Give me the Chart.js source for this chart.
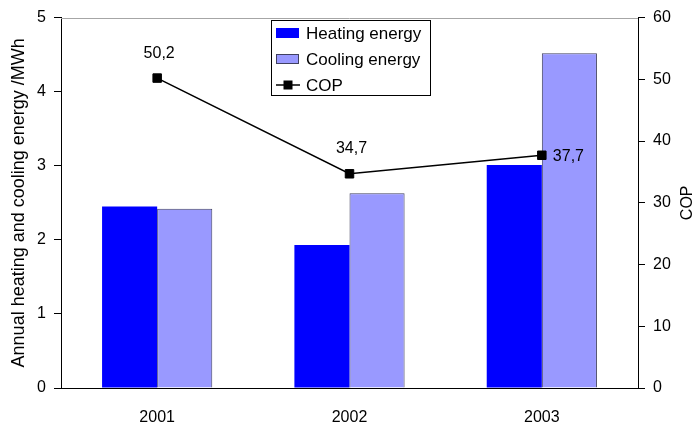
<!DOCTYPE html>
<html>
<head>
<meta charset="utf-8">
<title>Annual heating and cooling energy and COP</title>
<script src="https://cdn.jsdelivr.net/npm/chart.js@4/dist/chart.umd.min.js"></script>
<style>
  html, body { margin: 0; padding: 0; background: #fff; }
  #wrap { width: 696px; height: 424px; }
</style>
</head>
<body>
<div id="wrap"><canvas id="c" width="696" height="424"></canvas></div>
<script>
// Years and measured quantities
const years = ['2001', '2002', '2003'];
const heatingEnergy = [2.45, 1.93, 3.01];   // MWh
const coolingEnergy = [2.42, 2.63, 4.52];   // MWh
const cop = [50.2, 34.7, 37.7];
const energyTicks = [0, 1, 2, 3, 4, 5];
const copTicks = [0, 10, 20, 30, 40, 50, 60];

const FONT = 'Liberation Sans, Arial, sans-serif';
const HEAT_COLOR = '#0000ff';
const COOL_COLOR = '#9999ff';

// Gray frame line along the top of the plot area
const topFrame = {
  id: 'topFrame',
  beforeDatasetsDraw(chart) {
    const { ctx, chartArea: a } = chart;
    ctx.save();
    ctx.strokeStyle = '#a6a6a6';
    ctx.lineWidth = 1;
    ctx.beginPath();
    ctx.moveTo(a.left, Math.round(a.top) + 0.5);
    ctx.lineTo(a.right, Math.round(a.top) + 0.5);
    ctx.stroke();
    ctx.restore();
  }
};

// Right axis title, reading bottom to top like the left one
const rightTitle = {
  id: 'rightTitle',
  afterDraw(chart, args, opts) {
    const { ctx, chartArea: a } = chart;
    ctx.save();
    ctx.translate(opts.x, (a.top + a.bottom) / 2);
    ctx.rotate(-Math.PI / 2);
    ctx.font = '16px ' + FONT;
    ctx.fillStyle = '#000';
    ctx.textAlign = 'center';
    ctx.textBaseline = 'middle';
    ctx.fillText(opts.text, 0, 0);
    ctx.restore();
  }
};

// COP value labels next to each point (decimal comma)
const copLabels = {
  id: 'copLabels',
  afterDatasetsDraw(chart, args, opts) {
    const idx = chart.data.datasets.findIndex(d => d.type === 'line');
    const meta = chart.getDatasetMeta(idx);
    const values = chart.data.datasets[idx].data;
    const { ctx } = chart;
    ctx.save();
    ctx.font = '16px ' + FONT;
    ctx.fillStyle = '#000';
    meta.data.forEach((pt, i) => {
      const txt = values[i].toFixed(1).replace('.', ',');
      if (opts.placement[i] === 'right') {
        ctx.textAlign = 'left';
        ctx.textBaseline = 'middle';
        ctx.fillText(txt, pt.x + 11, pt.y + 1);
      } else {
        ctx.textAlign = 'center';
        ctx.textBaseline = 'middle';
        ctx.fillText(txt, pt.x + 2, pt.y - 25);
      }
    });
    ctx.restore();
  }
};

// Boxed legend inside the plot area
const boxLegend = {
  id: 'boxLegend',
  afterDraw(chart, args, opts) {
    const { ctx } = chart;
    const x = opts.x, y = opts.y, w = opts.width, h = opts.height;
    ctx.save();
    ctx.fillStyle = '#fff';
    ctx.fillRect(x, y, w, h);
    ctx.strokeStyle = '#000';
    ctx.lineWidth = 1;
    ctx.strokeRect(x + 0.5, y + 0.5, w, h);
    ctx.font = '17px ' + FONT;
    ctx.textAlign = 'left';
    ctx.textBaseline = 'middle';
    chart.data.datasets.forEach((ds) => {
      const cy = opts.rowY[ds.legendRow];
      const sx = x + 5;
      if (ds.type === 'line') {
        ctx.strokeStyle = '#000';
        ctx.lineWidth = 1.5;
        ctx.beginPath();
        ctx.moveTo(sx, cy);
        ctx.lineTo(sx + 24, cy);
        ctx.stroke();
        ctx.fillStyle = '#000';
        ctx.fillRect(sx + 7.5, cy - 4.5, 9, 9);
      } else {
        ctx.fillStyle = ds.backgroundColor;
        ctx.fillRect(sx, cy - 5, 23, 10);
        if (ds.borderWidth) {
          ctx.strokeStyle = ds.borderColor;
          ctx.lineWidth = 1;
          ctx.strokeRect(sx + 0.5, cy - 4.5, 22, 9);
        }
      }
      ctx.fillStyle = '#000';
      ctx.fillText(ds.label, x + 35, cy + 1);
    });
    ctx.restore();
  }
};

new Chart(document.getElementById('c'), {
  data: {
    labels: years,
    datasets: [
      {
        type: 'line',
        label: 'COP',
        data: cop,
        yAxisID: 'yCop',
        borderColor: '#000',
        borderWidth: 1.6,
        pointStyle: 'rect',
        pointRadius: 6,
        pointBackgroundColor: '#000',
        pointBorderColor: '#000',
        pointBorderWidth: 1,
        tension: 0,
        order: 0,
        legendRow: 2
      },
      {
        type: 'bar',
        label: 'Heating energy',
        data: heatingEnergy,
        yAxisID: 'yEnergy',
        backgroundColor: HEAT_COLOR,
        borderWidth: 0,
        categoryPercentage: 0.573,
        barPercentage: 1,
        order: 1,
        legendRow: 0
      },
      {
        type: 'bar',
        label: 'Cooling energy',
        data: coolingEnergy,
        yAxisID: 'yEnergy',
        backgroundColor: COOL_COLOR,
        borderColor: '#404060',
        borderWidth: 1,
        categoryPercentage: 0.573,
        barPercentage: 1,
        order: 1,
        legendRow: 1
      }
    ]
  },
  options: {
    responsive: false,
    animation: false,
    devicePixelRatio: 1,
    layout: { padding: { top: 16, left: 0, right: 0, bottom: 0 } },
    plugins: {
      legend: { display: false },
      tooltip: { enabled: false },
      copLabels: { placement: ['above', 'above', 'right'] },
      boxLegend: { x: 271, y: 20, width: 159, height: 75, rowY: [33, 59, 85] },
      rightTitle: { text: 'COP', x: 688 }
    },
    scales: {
      x: {
        type: 'category',
        grid: { display: false, drawTicks: false, tickLength: 0 },
        border: { display: true, color: '#000', width: 1 },
        ticks: { color: '#000', font: { family: FONT, size: 16 }, padding: 20 },
        afterFit(s) { s.height = 36; }
      },
      yEnergy: {
        type: 'linear',
        position: 'left',
        min: 0,
        max: 5,
        afterBuildTicks(s) { s.ticks = energyTicks.map(v => ({ value: v })); },
        grid: { drawOnChartArea: false, drawTicks: true, tickLength: 7, tickColor: '#000' },
        border: { display: true, color: '#000', width: 1 },
        ticks: { color: '#000', font: { family: FONT, size: 16 }, padding: 8 },
        title: {
          display: true,
          text: 'Annual heating and cooling energy /MWh',
          color: '#000',
          font: { family: FONT, size: 18, lineHeight: 1 },
          padding: { top: 10.5, bottom: 0 }
        },
        afterFit(s) { s.width = 61; }
      },
      yCop: {
        type: 'linear',
        position: 'right',
        min: 0,
        max: 60,
        afterBuildTicks(s) { s.ticks = copTicks.map(v => ({ value: v })); },
        grid: { drawOnChartArea: false, drawTicks: true, tickLength: 7, tickColor: '#000' },
        border: { display: true, color: '#000', width: 1 },
        ticks: { color: '#000', font: { family: FONT, size: 16 }, padding: 8 },
        afterFit(s) { s.width = 58; }
      }
    }
  },
  plugins: [topFrame, copLabels, boxLegend, rightTitle]
});
</script>
</body>
</html>
